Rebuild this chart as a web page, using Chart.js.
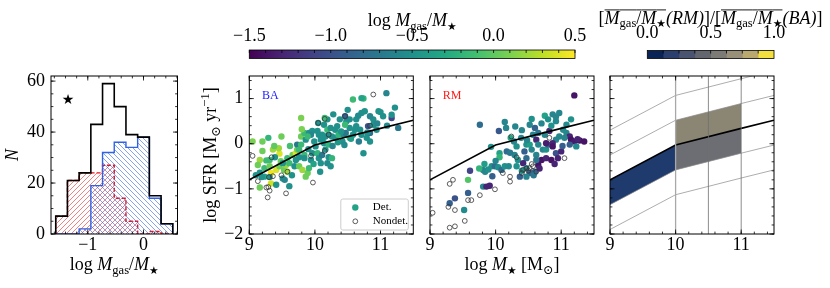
<!DOCTYPE html>
<html><head><meta charset="utf-8">
<script src="https://cdn.jsdelivr.net/npm/chart.js@4.4.1/dist/chart.umd.min.js"></script>
<style>
html,body{margin:0;padding:0;background:#fff;}
#wrap{position:relative;width:830px;height:288px;overflow:hidden;background:#fff;}
#wrap canvas{position:absolute;left:0;top:0;}
</style></head><body>
<div id="wrap">
<canvas id="cHist" width="830" height="288"></canvas>
<canvas id="cBA" width="830" height="288"></canvas>
<canvas id="cRM" width="830" height="288"></canvas>
<canvas id="cMS" width="830" height="288"></canvas>
<canvas id="cCb1" width="830" height="288"></canvas>
<canvas id="cCb2" width="830" height="288"></canvas>
</div>
<script>
// ---------------- DATA ----------------
const histEdges = [-1.575,-1.365,-1.155,-0.945,-0.735,-0.525,-0.315,-0.105,0.105,0.315,0.525];
const histAll = [7,21,24,43,59,50,39,38,15,4];
const histRM  = [7,21,24,24,27,14,5,0,1,0];
const histBA  = [0,0,2,19,32,36,34,38,14,4];

const baDetX = [9.05,9.20,9.29,9.49,9.20,9.36,9.46,9.16,9.26,9.31,
 9.39,9.13,9.23,9.31,9.41,9.33,9.31,9.23,9.16,9.19,
 9.33,9.16,9.41,9.51,9.54,9.61,9.53,9.48,9.56,9.46,
 9.61,9.58,9.66,9.51,9.58,9.69,9.71,9.73,9.73,9.76,
 9.79,9.79,9.79,9.84,9.91,9.86,9.84,9.84,9.76,9.71,
 9.76,9.81,9.89,9.86,9.91,9.94,9.96,9.99,10.01,10.04,
 10.06,10.09,10.11,10.16,10.21,10.19,10.24,10.26,10.14,10.21,
 10.16,10.21,10.26,10.31,10.31,10.36,10.42,10.44,10.47,10.53,
 10.58,10.63,10.61,10.71,10.79,10.84,10.84,10.74,10.69,10.81,
 10.89,10.94,10.89,10.84,11.00,10.97,11.04,11.17,11.17,11.22,
 11.09,11.27,10.74,10.71,10.58,10.76,10.71,10.63,10.53,10.48,
 10.46,10.38,10.28,10.19,10.15,10.14,10.05,10.04,9.96,9.94,
 9.89,10.06,10.11,10.19,10.24,10.09,10.53,10.46,10.34,10.50,
 10.40,10.66,10.55,10.27,10.35,10.45,10.67,10.80,10.95,11.10,
 9.45,9.62,9.90,9.98,10.08,9.65,9.38,9.10,9.80,10.12];
const baDetY = [0.05,0.05,0.13,0.16,-0.16,-0.13,-0.22,-0.36,-0.37,-0.36,
 -0.30,-0.47,-0.54,-0.50,-0.58,-0.65,-0.74,-0.73,-0.64,-0.74,
 -0.88,-0.97,-0.91,-0.77,-0.80,-0.94,-0.58,-0.39,-0.47,-0.50,
 -0.43,-0.32,-0.25,-0.43,-0.62,-0.50,-0.21,-0.13,-0.02,-0.13,
 -0.02,0.16,0.57,0.24,0.24,0.09,-0.25,-0.32,-0.30,-0.36,
 -0.50,-0.58,-0.65,-0.73,-0.54,-0.36,-0.21,0.05,-0.06,-0.21,
 -0.32,-0.43,-0.25,-0.13,-0.30,-0.43,-0.50,-0.32,0.01,-0.02,
 0.16,0.20,0.16,0.13,0.31,0.20,0.05,0.20,0.24,0.13,
 0.20,0.39,0.31,0.20,0.13,0.24,0.05,-0.21,0.31,0.39,
 0.42,0.31,0.54,0.61,0.70,0.72,0.61,0.57,0.64,0.80,
 1.12,0.35,1.00,1.01,0.98,0.72,0.68,0.54,0.54,0.50,
 0.61,0.54,0.65,0.54,0.57,0.42,0.46,0.28,0.28,0.20,
 0.16,0.20,0.20,0.31,0.35,0.09,0.35,0.42,0.39,0.75,
 0.27,0.62,0.11,-0.05,0.03,-0.03,0.05,0.25,0.45,0.40,
 -0.10,-0.05,-0.12,-0.45,-0.62,-0.70,-0.05,-0.70,0.32,0.12];
const baDetC = [0.1,0.05,-0.2,0.05,0.05,0.2,0.4,0.2,-0.15,-0.15,
 -0.5,0.05,-0.15,0.05,0.4,0.45,-0.5,-0.35,-0.5,-0.5,
 0.35,0.05,-0.5,-0.5,-0.6,-0.5,0.05,0.05,0.2,0.05,
 -0.15,-0.15,0.05,-0.5,0.2,-0.5,0.4,0.05,-0.7,-0.15,
 -0.15,0.05,0.1,-0.15,-0.5,-0.5,-0.15,-0.5,-0.5,-0.5,
 0.05,0.2,0.05,0.05,-0.15,-0.5,-0.5,-0.5,-0.5,-0.2,
 -0.5,-0.5,-0.7,-0.5,-0.5,-0.55,-0.5,-0.2,-0.5,-0.2,
 -0.5,-0.6,-0.5,-0.5,-0.5,-0.2,-0.5,-0.5,-0.7,-0.15,
 -0.5,-0.5,-0.5,-0.5,-0.5,-0.8,-0.5,-0.5,-0.5,-1.0,
 -0.5,-0.5,-0.5,-0.6,-0.5,-0.5,-0.5,-1.1,-0.5,-0.5,
 -0.6,-0.7,-0.2,-0.35,-0.15,-0.5,-0.5,-0.5,-0.5,-0.5,
 -0.9,-0.5,-0.5,-0.5,-0.15,-0.5,-0.5,-0.5,-0.5,-0.6,
 -0.15,-0.5,-0.5,-0.15,-0.5,-0.5,-0.5,-0.15,-0.5,-0.5,
 -0.45,-0.55,-0.4,-0.6,-0.45,-0.55,-0.65,-0.5,-0.6,-0.55,
 0.2,-0.1,-0.5,-0.35,-0.5,-0.5,0.0,-0.5,0.1,-0.5];
const baNonX = [9.05,9.34,9.13,9.30,9.36,9.26,9.31,9.28,9.49,9.56,9.58,9.94,9.97,10.05,10.15,10.15,10.21,10.46,10.89,10.84,9.29];
const baNonY = [-0.27,-0.30,-0.83,-0.74,-0.72,-0.97,-1.04,-1.19,-0.70,-1.10,-0.62,-0.27,-0.86,0.46,0.55,-0.16,0.20,0.61,1.09,0.40,-0.96];

const rmDetX = [11.20,9.76,10.05,10.14,10.16,10.23,9.93,10.06,10.06,10.17,
 9.61,9.81,9.84,9.89,9.58,9.81,9.86,9.91,9.94,9.99,
 10.04,10.09,10.14,9.58,9.38,9.30,9.52,10.32,10.29,10.34,
 10.32,10.39,10.47,10.44,10.52,10.60,10.57,10.62,10.52,10.55,
 10.62,10.47,10.42,10.47,10.52,10.60,10.65,10.70,10.62,10.72,
 10.77,10.80,10.75,10.80,10.87,10.92,10.92,10.97,11.08,11.15,
 11.08,11.13,11.15,11.20,11.28,11.35,11.23,10.92,10.97,10.87,
 10.82,10.75,10.65,10.77,10.85,10.92,10.95,11.00,10.87,10.77,
 10.65,11.03,11.05,11.13,10.37,10.47,10.58,10.20,10.22,10.40,
 10.28,10.00,9.83,10.70,11.02,10.55,10.85,11.25,10.40,9.95,
 10.30,10.48,10.67,10.90,9.75];
const rmDetY = [1.07,0.42,0.28,0.48,0.35,0.13,-0.07,-0.21,-0.30,-0.17,
 -0.60,-0.58,-0.62,-0.57,-0.80,-0.95,-0.95,-0.93,-0.50,-0.50,
 -0.52,-0.58,-0.50,-1.09,-1.21,-1.32,-1.47,-0.06,-0.25,-0.36,
 -0.50,0.13,-0.02,-0.17,0.42,0.35,0.20,0.09,-0.02,-0.13,
 -0.25,-0.32,-0.43,-0.54,-0.65,-0.62,-0.47,-0.36,-0.36,-0.13,
 -0.13,-0.02,0.62,0.54,0.65,0.50,0.60,0.68,0.42,0.54,
 0.24,0.16,0.09,0.05,0.07,0.05,-0.06,0.09,0.16,0.01,
 0.28,0.20,0.24,-0.32,-0.36,-0.21,-0.32,-0.17,-0.06,0.01,
 -0.02,0.31,0.13,-0.02,-0.73,-0.73,-0.70,-0.50,-0.20,0.30,
 0.05,-0.38,-0.45,0.45,-0.05,0.55,0.40,0.10,-0.60,-0.72,
 0.38,0.08,-0.55,-0.45,-0.55];
const rmDetC = [-1.4,-0.8,-0.95,-0.6,-0.6,-0.3,-0.5,-0.35,-0.2,-0.8,
 -1.1,-0.6,-0.6,-0.5,-0.05,-0.6,-1.3,-1.3,-0.5,-0.8,
 -0.5,-0.8,-0.5,-0.9,-1.0,-0.9,-0.55,-0.5,-0.6,-0.5,
 -0.5,-0.6,-0.5,-0.9,-0.6,-0.9,-0.6,-1.3,-0.4,-0.6,
 -0.6,-0.8,-1.3,-0.6,-0.9,-0.9,-1.4,-1.4,-0.7,-0.6,
 -0.5,-0.9,-0.35,-0.5,-0.6,-0.55,-0.6,-0.6,-0.55,-0.5,
 -0.6,-1.3,-1.4,-1.35,-1.4,-1.4,-0.55,-0.6,-0.6,-1.3,
 -1.3,-0.6,-0.7,-1.3,-1.4,-1.0,-1.3,-1.3,-1.4,-1.35,
 -0.6,-0.55,-0.6,-0.9,-0.9,-0.6,-0.7,-0.55,-0.7,-0.6,
 -0.6,-0.6,-0.4,-0.6,-0.9,-0.5,-0.5,-1.3,-0.5,-0.9,
 -0.6,-0.6,-1.3,-1.3,-0.2];
const rmNonX = [9.04,9.30,9.35,9.28,9.38,9.30,9.38,9.53,9.58,9.63,9.76,9.99,10.11,10.22,10.22,10.24,10.32,10.42,10.47,10.50,10.52,10.57,10.40,10.55,10.82,11.05,10.62];
const rmNonY = [-1.53,-0.89,-0.80,-1.40,-1.47,-1.86,-1.83,-1.71,-1.25,-1.25,-1.14,-1.01,-0.65,-0.73,-0.84,0.16,-0.30,-0.58,-0.55,-0.60,-0.54,-0.50,-0.65,-0.45,0.13,-0.32,-0.62];

// main-sequence relation and offset lines
const msX = [9, 10, 11, 11.5];
const msY = [-0.80, -0.03, 0.34, 0.52];
const msOffsets = [1.1, 0.55, -0.55, -1.1];
const massBinEdges = [10, 10.5, 11];
// shaded bands: [start index, end index] of msX, upper / lower offsets, colour
const bandFrom = [0, 1, 1];
const bandTo   = [1, 2, 2];
const bandHi   = [0, 0.55, 0];
const bandLo   = [-0.55, 0, -0.55];
const bandCol  = ['#1f3a6d', '#8b8574', '#6c6e73'];

// tick labels
const histXTicks = [-1, 0];
const histYTicks = [0, 20, 40, 60];
const massTicks = [9, 10, 11];
const sfrTicks = [-2, -1, 0, 1];
const cb1Ticks = [-1.5, -1.0, -0.5, 0.0, 0.5];
const cb2Ticks = [0.0, 0.5, 1.0];
const cb2Bounds = [0, 0.125, 0.25, 0.375, 0.5, 0.625, 0.75, 0.875, 1.0];
const cb2Colors = ['#0b2458', '#2b3f6f', '#4a5470', '#63666f', '#7c7b76', '#999079', '#b9a96f', '#f3df3e'];

// ---------------- STYLE / HELPERS ----------------
const W = 830, H = 288;
const FF = '"Liberation Serif","DejaVu Serif","DejaVu Sans",serif';
Chart.defaults.font.family = FF;
const VIR = ['#440154','#482475','#414487','#355f8d','#2a788e','#21918c','#22a884','#44bf70','#7ad151','#bddf26','#fde725'];
function hex2rgb(h){return [1,3,5].map(i=>parseInt(h.substr(i,2),16));}
function viridis(c){
  let t=(c-cb1Ticks[0])/(cb1Ticks[cb1Ticks.length-1]-cb1Ticks[0]); t=Math.max(0,Math.min(1,t));
  const f=t*(VIR.length-1), i=Math.min(VIR.length-2,Math.floor(f)), u=f-i;
  const a=hex2rgb(VIR[i]), b=hex2rgb(VIR[i+1]);
  return 'rgb('+a.map((v,k)=>Math.round(v+(b[k]-v)*u)).join(',')+')';
}
function fmt(v,d){const s=d==null?String(Math.abs(v)):Math.abs(v).toFixed(d);return (v<0?'\u2212':'')+s;}
function steps(a,b,st){const r=[];for(let k=0;;k++){const v=+(a+k*st).toFixed(5);if(v>b+1e-9)break;r.push(v);}return r;}
function zp(s){s.paddingLeft=0;s.paddingRight=0;s.paddingTop=0;s.paddingBottom=0;}
function xy(X,Y){return X.map((x,i)=>({x:x,y:Y[i]}));}

const HIST={L:51,R:177.5,T:76,B:234}, BA={L:249.3,R:413.3,T:76,B:234}, RM={L:430,R:594,T:76,B:234},
      MSP={L:610,R:774,T:76,B:234}, CB1={L:249.3,R:575,T:50,B:58.5}, CB2={L:647.3,R:774,T:50.5,B:58.5};

function opts(o){
  const top=o.xPos==='top', axH=o.axH||24, axW=o.showY?(o.axW||40):0;
  const y = o.yCat ? {type:'category', display:false, afterFit:s=>{s.width=0;zp(s);}} :
    {type:'linear', min:o.yMin, max:o.yMax, grid:{display:false,drawTicks:false}, border:{display:false},
     ticks:{display:!!o.showY, color:'#000', font:{family:FF,size:18}, padding:6, callback:o.yFmt||(v=>fmt(v))},
     afterBuildTicks:s=>{s.ticks=o.yTicks.map(v=>({value:v}));}, afterFit:s=>{s.width=axW;zp(s);}};
  return {
    responsive:false, animation:false, devicePixelRatio:1, events:[],
    layout:{padding:{left:o.box.L-axW, right:W-o.box.R, top: top?o.box.T-axH:o.box.T, bottom: top?H-o.box.B:H-o.box.B-axH}},
    plugins:{legend:{display:false}, tooltip:{enabled:false}},
    scales:{
      x:{type:'linear', position: top?'top':'bottom', min:o.xMin, max:o.xMax,
         grid:{display:false,drawTicks:false}, border:{display:false},
         ticks:{display:true, color:'#000', font:{family:FF,size:18}, padding:o.xPad||0, maxRotation:0, autoSkip:false, callback:o.xFmt||(v=>fmt(v))},
         afterBuildTicks:s=>{s.ticks=o.xTicks.map(v=>({value:v}));},
         afterFit:s=>{s.height=axH;zp(s);}},
      y:y
    }
  };
}

function deco(o){
  return {id:'deco', afterDatasetsDraw(ch){
    const c=ch.ctx, a=ch.chartArea, xs=ch.scales.x, ys=ch.scales.y;
    c.save(); c.strokeStyle='#000'; c.lineWidth=0.8; c.beginPath();
    const tx=(v,len)=>{const p=xs.getPixelForValue(v); if(p<a.left-0.5||p>a.right+0.5)return;
      c.moveTo(p,a.top); c.lineTo(p,a.top+len); if(!o.topOnly){c.moveTo(p,a.bottom); c.lineTo(p,a.bottom-len);}};
    const ty=(v,len)=>{const p=ys.getPixelForValue(v); if(p<a.top-0.5||p>a.bottom+0.5)return;
      c.moveTo(a.left,p); c.lineTo(a.left+len,p); c.moveTo(a.right,p); c.lineTo(a.right-len,p);};
    (o.xMin||[]).forEach(v=>tx(v,o.minLen||2.4)); (o.xMaj||[]).forEach(v=>tx(v,o.majLen||4.5));
    (o.yMin||[]).forEach(v=>ty(v,2.4)); (o.yMaj||[]).forEach(v=>ty(v,4.5));
    c.stroke();
    c.lineWidth=o.frameW||1; c.strokeRect(a.left,a.top,a.right-a.left,a.bottom-a.top);
    c.restore();
    if(o.extra){c.save(); o.extra(ch,c,a); c.restore();}
  }};
}

// rich text: parts = [[text, flags]] flags: i italic, b subscript, p superscript, o overline, s small star
function rich(c,parts,x,y,size,rot){
  c.save(); c.translate(x,y); if(rot) c.rotate(rot);
  const seg=parts.map(([t,f=''])=>{
    const small=f.includes('b')||f.includes('p');
    const sz=f.includes('s')?size*0.6:(small?size*0.7:size);
    const font=(f.includes('i')?'italic ':'')+sz.toFixed(1)+'px '+FF;
    c.font=font; const w=c.measureText(t).width;
    const dy=f.includes('b')?size*0.22:(f.includes('p')?-size*0.38:0);
    return {t,font,w,dy,ol:f.includes('o')};
  });
  const tot=seg.reduce((s,g)=>s+g.w,0); let cx=-tot/2;
  c.fillStyle='#000'; c.textBaseline='alphabetic'; c.textAlign='left';
  seg.forEach(g=>{c.font=g.font; c.fillText(g.t,cx,g.dy); if(g.ol) c.fillRect(cx,-size*0.78,g.w,0.9); cx+=g.w;});
  c.restore();
}

function hatch(canvasId,color,dir){
  const s=5, cv=document.createElement('canvas'); cv.width=s; cv.height=s; const g=cv.getContext('2d');
  g.strokeStyle=color; g.lineWidth=0.7; g.beginPath();
  if(dir==='/'){g.moveTo(-1,s+1);g.lineTo(s+1,-1);g.moveTo(-1,1);g.lineTo(1,-1);g.moveTo(s-1,s+1);g.lineTo(s+1,s-1);}
  else{g.moveTo(-1,-1);g.lineTo(s+1,s+1);g.moveTo(s-1,-1);g.lineTo(s+1,1);g.moveTo(-1,s-1);g.lineTo(1,s+1);}
  g.stroke();
  return document.getElementById(canvasId).getContext('2d').createPattern(cv,'repeat');
}
function stepPts(edges,counts){
  const p=[{x:edges[0],y:0}];
  counts.forEach((n,i)=>p.push({x:edges[i],y:n}));
  p.push({x:edges[edges.length-1],y:counts[counts.length-1]});
  p.push({x:edges[edges.length-1],y:0});
  return p;
}

const M_GAS_RATIO = [['log '],['M','i'],['gas','b'],['/'],['M','i'],['\u2605','bs']];

// ---------------- HISTOGRAM ----------------
new Chart(document.getElementById('cHist'),{
  type:'line',
  data:{datasets:[
    {data:stepPts(histEdges,histAll), borderColor:'#000', borderWidth:1.6, fill:false, stepped:true, pointRadius:0},
    {data:stepPts(histEdges,histBA), borderColor:'#2f62e6', borderWidth:1.4, fill:'origin', backgroundColor:hatch('cHist','rgba(50,100,230,0.85)','\\'), stepped:true, pointRadius:0},
    {data:stepPts(histEdges,histRM), borderColor:'#e8141a', borderWidth:1.4, borderDash:[4,2], fill:'origin', backgroundColor:hatch('cHist','rgba(235,40,40,0.85)','/'), stepped:true, pointRadius:0}
  ]},
  options:opts({box:HIST, xMin:-1.66, xMax:0.61, yMin:0, yMax:62, xTicks:histXTicks, yTicks:histYTicks, showY:true}),
  plugins:[deco({xMaj:histXTicks, xMin:steps(-1.6,0.6,0.2), yMaj:histYTicks, yMin:steps(0,60,5),
    extra:(ch,c,a)=>{
      c.font='14px '+FF; c.fillStyle='#000'; c.textAlign='center'; c.textBaseline='middle';
      c.fillText('\u2605',a.left+17,a.top+24);
      rich(c,M_GAS_RATIO,(a.left+a.right)/2,270,18);
      rich(c,[['N','i']],18,155,18,-Math.PI/2);
    }})]
});

// ---------------- SCATTER PANELS ----------------
function scatterChart(id,box,detX,detY,detC,nonX,nonY,showY,extra){
  new Chart(document.getElementById(id),{
    type:'scatter',
    data:{datasets:[
      {data:xy(msX,msY), showLine:true, borderColor:'#000', borderWidth:1.6, pointRadius:0, fill:false},
      {data:xy(nonX,nonY), pointRadius:2.4, pointBackgroundColor:'rgba(0,0,0,0)', pointBorderColor:'#333', pointBorderWidth:0.8},
      {data:xy(detX,detY), pointRadius:3.2, pointBorderWidth:0, pointBackgroundColor:detC.map(viridis)}
    ]},
    options:opts({box, xMin:9, xMax:11.5, yMin:-2, yMax:1.5, xTicks:massTicks, yTicks:sfrTicks, showY}),
    plugins:[deco({xMaj:massTicks, xMin:steps(9,11.4,0.2), yMaj:sfrTicks, yMin:steps(-2,1.4,0.2), extra})]
  });
}
scatterChart('cBA',BA,baDetX,baDetY,baDetC,baNonX,baNonY,true,(ch,c,a)=>{
  c.font='12px '+FF; c.fillStyle='#1a1aff'; c.textAlign='center'; c.textBaseline='middle';
  c.fillText('BA',a.left+21,a.top+20);
  // legend
  const lx=a.right-72.5, ly=a.bottom-35, lw=67.5, lh=31;
  c.fillStyle='rgba(255,255,255,0.85)'; c.strokeStyle='#cccccc'; c.lineWidth=1;
  c.beginPath(); c.roundRect(lx,ly,lw,lh,2); c.fill(); c.stroke();
  c.beginPath(); c.arc(lx+14.5,ly+8.5,3.2,0,Math.PI*2); c.fillStyle=viridis(-0.35); c.fill();
  c.beginPath(); c.arc(lx+14.5,ly+22.3,2.4,0,Math.PI*2); c.strokeStyle='#333'; c.lineWidth=0.8; c.stroke();
  c.fillStyle='#000'; c.font='11px '+FF; c.textAlign='left'; c.textBaseline='middle';
  c.fillText('Det.',lx+32,ly+8.5); c.fillText('Nondet.',lx+32,ly+22.3);
  rich(c,[['log SFR [M'],['\u2299','b'],[' yr'],['\u22121','p'],[']']],216,155,18,-Math.PI/2);
});
scatterChart('cRM',RM,rmDetX,rmDetY,rmDetC,rmNonX,rmNonY,false,(ch,c,a)=>{
  c.font='12px '+FF; c.fillStyle='#ff1a1a'; c.textAlign='center'; c.textBaseline='middle';
  c.fillText('RM',a.left+22,a.top+20);
  rich(c,[['log '],['M','i'],['\u2605','bs'],[' [M'],['\u2299','b'],[']']],(a.left+a.right)/2,270,18);
});

// ---------------- MS BANDS PANEL ----------------
(function(){
  const ds=[{data:xy(msX,msY), borderColor:'#000', borderWidth:1.6, pointRadius:0, fill:false}];
  msOffsets.forEach(off=>ds.push({data:msX.map((x,i)=>({x:x,y:msY[i]+off})), borderColor:'#8a8a8a', borderWidth:0.7, pointRadius:0, fill:false}));
  bandFrom.forEach((i0,k)=>{
    const i1=bandTo[k], idx=ds.length;
    const sl=msX.slice(i0,i1+1).map((x,j)=>({x:x,y:msY[i0+j]}));
    ds.push({data:sl.map(p=>({x:p.x,y:p.y+bandHi[k]})), borderWidth:0, pointRadius:0, fill:idx+1, backgroundColor:bandCol[k]});
    ds.push({data:sl.map(p=>({x:p.x,y:p.y+bandLo[k]})), borderWidth:0, pointRadius:0, fill:false});
  });
  new Chart(document.getElementById('cMS'),{
    type:'scatter',
    data:{datasets:ds.map(d=>Object.assign({showLine:true},d))},
    options:opts({box:MSP, xMin:9, xMax:11.5, yMin:-2, yMax:1.5, xTicks:massTicks, yTicks:sfrTicks, showY:false}),
    plugins:[{id:'vlines', afterDatasetsDraw(ch){
        const c=ch.ctx,a=ch.chartArea,xs=ch.scales.x; c.save();
        massBinEdges.forEach((v,i)=>{const p=xs.getPixelForValue(v); c.strokeStyle=i===0?'#a8a8a8':'#707070'; c.lineWidth=i===0?1.3:0.8;
          c.beginPath(); c.moveTo(p,a.top); c.lineTo(p,a.bottom); c.stroke();});
        c.restore();}},
      deco({xMaj:massTicks, xMin:steps(9,11.4,0.2), yMaj:sfrTicks, yMin:steps(-2,1.4,0.2)})]
  });
})();

// ---------------- COLORBARS ----------------
new Chart(document.getElementById('cCb1'),{
  type:'bar',
  data:{labels:[''], datasets:[{data:[[cb1Ticks[0],cb1Ticks[cb1Ticks.length-1]]], barPercentage:1, categoryPercentage:1, borderWidth:0,
    backgroundColor:(x)=>{const ch=x.chart; if(!ch.chartArea) return VIR[5]; const xs=ch.scales.x;
      const g=ch.ctx.createLinearGradient(xs.getPixelForValue(cb1Ticks[0]),0,xs.getPixelForValue(cb1Ticks[cb1Ticks.length-1]),0);
      VIR.forEach((col,i)=>g.addColorStop(i/(VIR.length-1),col)); return g;}}]},
  options:Object.assign(opts({box:CB1, xPos:'top', xMin:cb1Ticks[0], xMax:cb1Ticks[cb1Ticks.length-1], xTicks:cb1Ticks, xFmt:v=>fmt(v,1), yCat:true, xPad:3, axH:40}),{indexAxis:'y'}),
  plugins:[deco({topOnly:true, xMaj:steps(-1.5,0.5,0.1), majLen:3, frameW:0.8,
    extra:(ch,c,a)=>{ rich(c,M_GAS_RATIO,(a.left+a.right)/2,26,18); }})]
});
new Chart(document.getElementById('cCb2'),{
  type:'bar',
  data:{labels:[''], datasets:cb2Colors.map((col,i)=>({data:[[cb2Bounds[i],cb2Bounds[i+1]]], backgroundColor:col, borderWidth:0, barPercentage:1, categoryPercentage:1, grouped:false}))},
  options:Object.assign(opts({box:CB2, xPos:'top', xMin:0, xMax:1, xTicks:cb2Ticks, xFmt:v=>fmt(v,1), yCat:true, xPad:6, axH:40}),{indexAxis:'y'}),
  plugins:[deco({topOnly:true, xMaj:cb2Bounds.slice(1,-1), majLen:3, frameW:0.8,
    extra:(ch,c,a)=>{
      rich(c,[['['],['M','io'],['gas','bo'],['/','o'],['M','io'],['\u2605','bso'],['(RM)','i'],[']/['],['M','io'],['gas','bo'],['/','o'],['M','io'],['\u2605','bso'],['(BA)','i'],[']']],710.5,23.5,18);
    }})]
});
</script>
</body></html>
